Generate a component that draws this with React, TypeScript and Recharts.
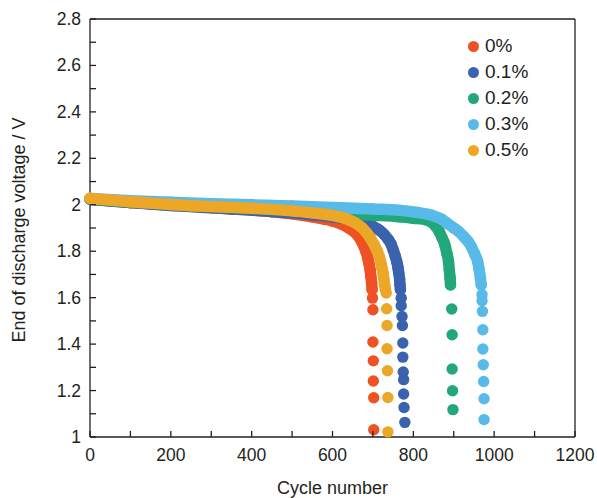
import React from 'react';
import { ScatterChart, Scatter, XAxis, YAxis, ReferenceLine, Legend, Label } from 'recharts';

const font = '"Liberation Sans", Arial, Helvetica, sans-serif';
const ink = '#231f20';

const seriesNames = ['0%', '0.1%', '0.2%', '0.3%', '0.5%'];
const seriesColors = ['#EE5124', '#3A62AE', '#22A878', '#58BAE9', '#EDA726'];

const xTicks = [0, 100, 200, 300, 400, 500, 600, 700, 800, 900, 1000, 1100, 1200];
const yTicks = [1, 1.1, 1.2, 1.3, 1.4, 1.5, 1.6, 1.7, 1.8, 1.9, 2, 2.1, 2.2, 2.3, 2.4, 2.5, 2.6, 2.7, 2.8];

// [cycle, voltage]; "band" is the dense part, "tail" the loose dots
const band0 = [
  [0, 2.025], [50, 2.017], [100, 2.01], [150, 2.004], [200, 1.998], [250, 1.993], [300, 1.988],
  [350, 1.983], [400, 1.977], [450, 1.97], [500, 1.961], [550, 1.948], [580, 1.938], [600, 1.93],
  [620, 1.918], [640, 1.9], [655, 1.882], [665, 1.862], [672, 1.842], [678, 1.82], [683, 1.797],
  [687, 1.773], [690, 1.748], [693, 1.72], [695, 1.69], [697, 1.66], [698, 1.635],
];
const tail0 = [[699, 1.598], [700, 1.548], [700, 1.409], [701, 1.328], [701, 1.241], [702, 1.169], [702, 1.031]];

const band1 = [
  [0, 2.024], [50, 2.016], [100, 2.009], [150, 2.003], [200, 1.997], [250, 1.992], [300, 1.987],
  [350, 1.982], [400, 1.977], [450, 1.971], [500, 1.965], [550, 1.957], [600, 1.948], [650, 1.935],
  [680, 1.921], [700, 1.907], [715, 1.892], [728, 1.872], [738, 1.85], [745, 1.83], [750, 1.806],
  [755, 1.78], [759, 1.755], [762, 1.73], [764, 1.705], [766, 1.68], [767, 1.655], [768, 1.635],
];
const tail1 = [
  [770, 1.598], [770, 1.565], [772, 1.519], [773, 1.48], [774, 1.405], [774, 1.344],
  [775, 1.28], [776, 1.247], [776, 1.185], [777, 1.127], [779, 1.063],
];

const band2 = [
  [0, 2.025], [100, 2.012], [200, 2.001], [300, 1.992], [400, 1.984], [500, 1.975], [600, 1.965],
  [668, 1.958], [700, 1.955], [767, 1.948], [800, 1.942], [833, 1.935], [845, 1.925], [855, 1.908],
  [864, 1.885], [871, 1.858], [878, 1.828], [883, 1.79], [887, 1.756], [889, 1.72], [891, 1.684], [892, 1.655],
];
const tail2 = [[895, 1.551], [896, 1.44], [896, 1.293], [897, 1.199], [898, 1.118]];

const band3 = [
  [0, 2.027], [100, 2.018], [200, 2.011], [300, 2.005], [400, 2.0], [500, 1.995], [600, 1.989],
  [700, 1.982], [767, 1.976], [810, 1.967], [847, 1.954], [870, 1.938], [884, 1.92], [900, 1.9],
  [912, 1.885], [923, 1.866], [935, 1.843], [944, 1.818], [952, 1.787], [959, 1.756], [963, 1.72],
  [966, 1.684], [968, 1.655],
];
const tail3 = [
  [970, 1.613], [970, 1.587], [971, 1.541], [972, 1.462], [972, 1.379], [973, 1.311],
  [974, 1.239], [975, 1.165], [975, 1.075],
];

const band5 = [
  [0, 2.028], [50, 2.02], [100, 2.013], [150, 2.007], [200, 2.001], [250, 1.996], [300, 1.992],
  [350, 1.989], [400, 1.985], [450, 1.98], [500, 1.974], [550, 1.965], [600, 1.954], [630, 1.942],
  [655, 1.923], [672, 1.902], [685, 1.878], [695, 1.853], [703, 1.828], [710, 1.803], [715, 1.78],
  [719, 1.755], [722, 1.73], [725, 1.705], [727, 1.68], [729, 1.655], [731, 1.635],
];
const tail5 = [[733, 1.62], [734, 1.552], [735, 1.48], [735, 1.38], [736, 1.285], [737, 1.17], [737, 1.022]];

const bands = [band0, band1, band2, band3, band5];
const tails = [tail0, tail1, tail2, tail3, tail5];

const toPoints = (pairs: number[][]) => pairs.map(([x, y]) => ({ x, y }));

const Dot = (props: any) => <circle cx={props.cx} cy={props.cy} r={5.7} fill={props.fill} />;

const XTick = ({ x, y, payload }: any) => {
  const major = payload.value % 200 === 0;
  return (
    <g>
      <line x1={x} x2={x} y1={y} y2={y - 6} stroke={ink} strokeWidth={1.3} />
      {major && (
        <text x={x} y={y + 24} textAnchor="middle" fill={ink} fontSize={17.5} fontFamily={font}>
          {payload.value}
        </text>
      )}
    </g>
  );
};

const YTick = ({ x, y, payload }: any) => {
  const major = Math.round(payload.value * 10) % 2 === 0;
  return (
    <g>
      <line x1={x} x2={x + 6} y1={y} y2={y} stroke={ink} strokeWidth={1.3} />
      {major && (
        <text x={x - 9} y={y + 6} textAnchor="end" fill={ink} fontSize={17.5} fontFamily={font}>
          {String(payload.value)}
        </text>
      )}
    </g>
  );
};

// only the band series carry a legend entry
const LegendList = ({ payload }: any) => (
  <div style={{ fontFamily: font, fontSize: 19, color: ink }}>
    {(payload || [])
      .filter((entry: any) => seriesNames.includes(entry.value))
      .map((entry: any) => (
        <div key={entry.value} style={{ display: 'flex', alignItems: 'center', height: 26 }}>
          <span
            style={{
              display: 'inline-block',
              width: 11,
              height: 11,
              borderRadius: '50%',
              background: entry.color,
              marginLeft: 2,
              marginRight: 6,
            }}
          />
          <span>{entry.value}</span>
        </div>
      ))}
  </div>
);

export default function App() {
  return (
    <div style={{ position: 'absolute', left: 0, top: 0, background: '#fff' }}>
      <ScatterChart width={597} height={498} margin={{ top: 19, right: 22, bottom: 0, left: 0 }}>
        <XAxis
          type="number"
          dataKey="x"
          domain={[0, 1200]}
          ticks={xTicks}
          interval={0}
          height={61}
          tick={<XTick />}
          tickLine={false}
          tickSize={0}
          tickMargin={0}
          axisLine={{ stroke: ink, strokeWidth: 1.3 }}
        >
          <Label
            content={({ viewBox }: any) => (
              <text
                x={viewBox.x + viewBox.width / 2}
                y={viewBox.y + 57}
                textAnchor="middle"
                fill={ink}
                fontSize={18}
                fontFamily={font}
              >
                Cycle number
              </text>
            )}
          />
        </XAxis>
        <YAxis
          type="number"
          dataKey="y"
          domain={[1, 2.8]}
          ticks={yTicks}
          interval={0}
          width={90}
          tick={<YTick />}
          tickLine={false}
          tickSize={0}
          tickMargin={0}
          axisLine={{ stroke: ink, strokeWidth: 1.3 }}
        >
          <Label
            content={({ viewBox }: any) => {
              const cx = viewBox.x + 25;
              const cy = viewBox.y + viewBox.height / 2 + 2;
              return (
                <text
                  x={cx}
                  y={cy}
                  transform={`rotate(-90 ${cx} ${cy})`}
                  textAnchor="middle"
                  fill={ink}
                  fontSize={18}
                  fontFamily={font}
                >
                  End of discharge voltage / V
                </text>
              );
            }}
          />
        </YAxis>
        <ReferenceLine y={2.8} stroke={ink} strokeWidth={1.3} ifOverflow="visible" />
        <ReferenceLine x={1200} stroke={ink} strokeWidth={1.3} ifOverflow="visible" />
        <Legend
          layout="vertical"
          align="center"
          verticalAlign="middle"
          content={<LegendList />}
          wrapperStyle={{ left: 466, top: 33, width: 110 }}
        />
        {seriesNames.map((name, i) => [
          <Scatter
            key={name + '-band'}
            name={name}
            data={toPoints(bands[i])}
            fill={seriesColors[i]}
            shape={<Dot />}
            line={{ strokeWidth: 11.4, strokeLinecap: 'round', strokeLinejoin: 'round' }}
            lineType="joint"
            lineJointType="monotoneX"
            isAnimationActive={false}
          />,
          <Scatter
            key={name + '-tail'}
            name={name + ' tail'}
            data={toPoints(tails[i])}
            fill={seriesColors[i]}
            shape={<Dot />}
            legendType="none"
            isAnimationActive={false}
          />,
        ])}
      </ScatterChart>
    </div>
  );
}
